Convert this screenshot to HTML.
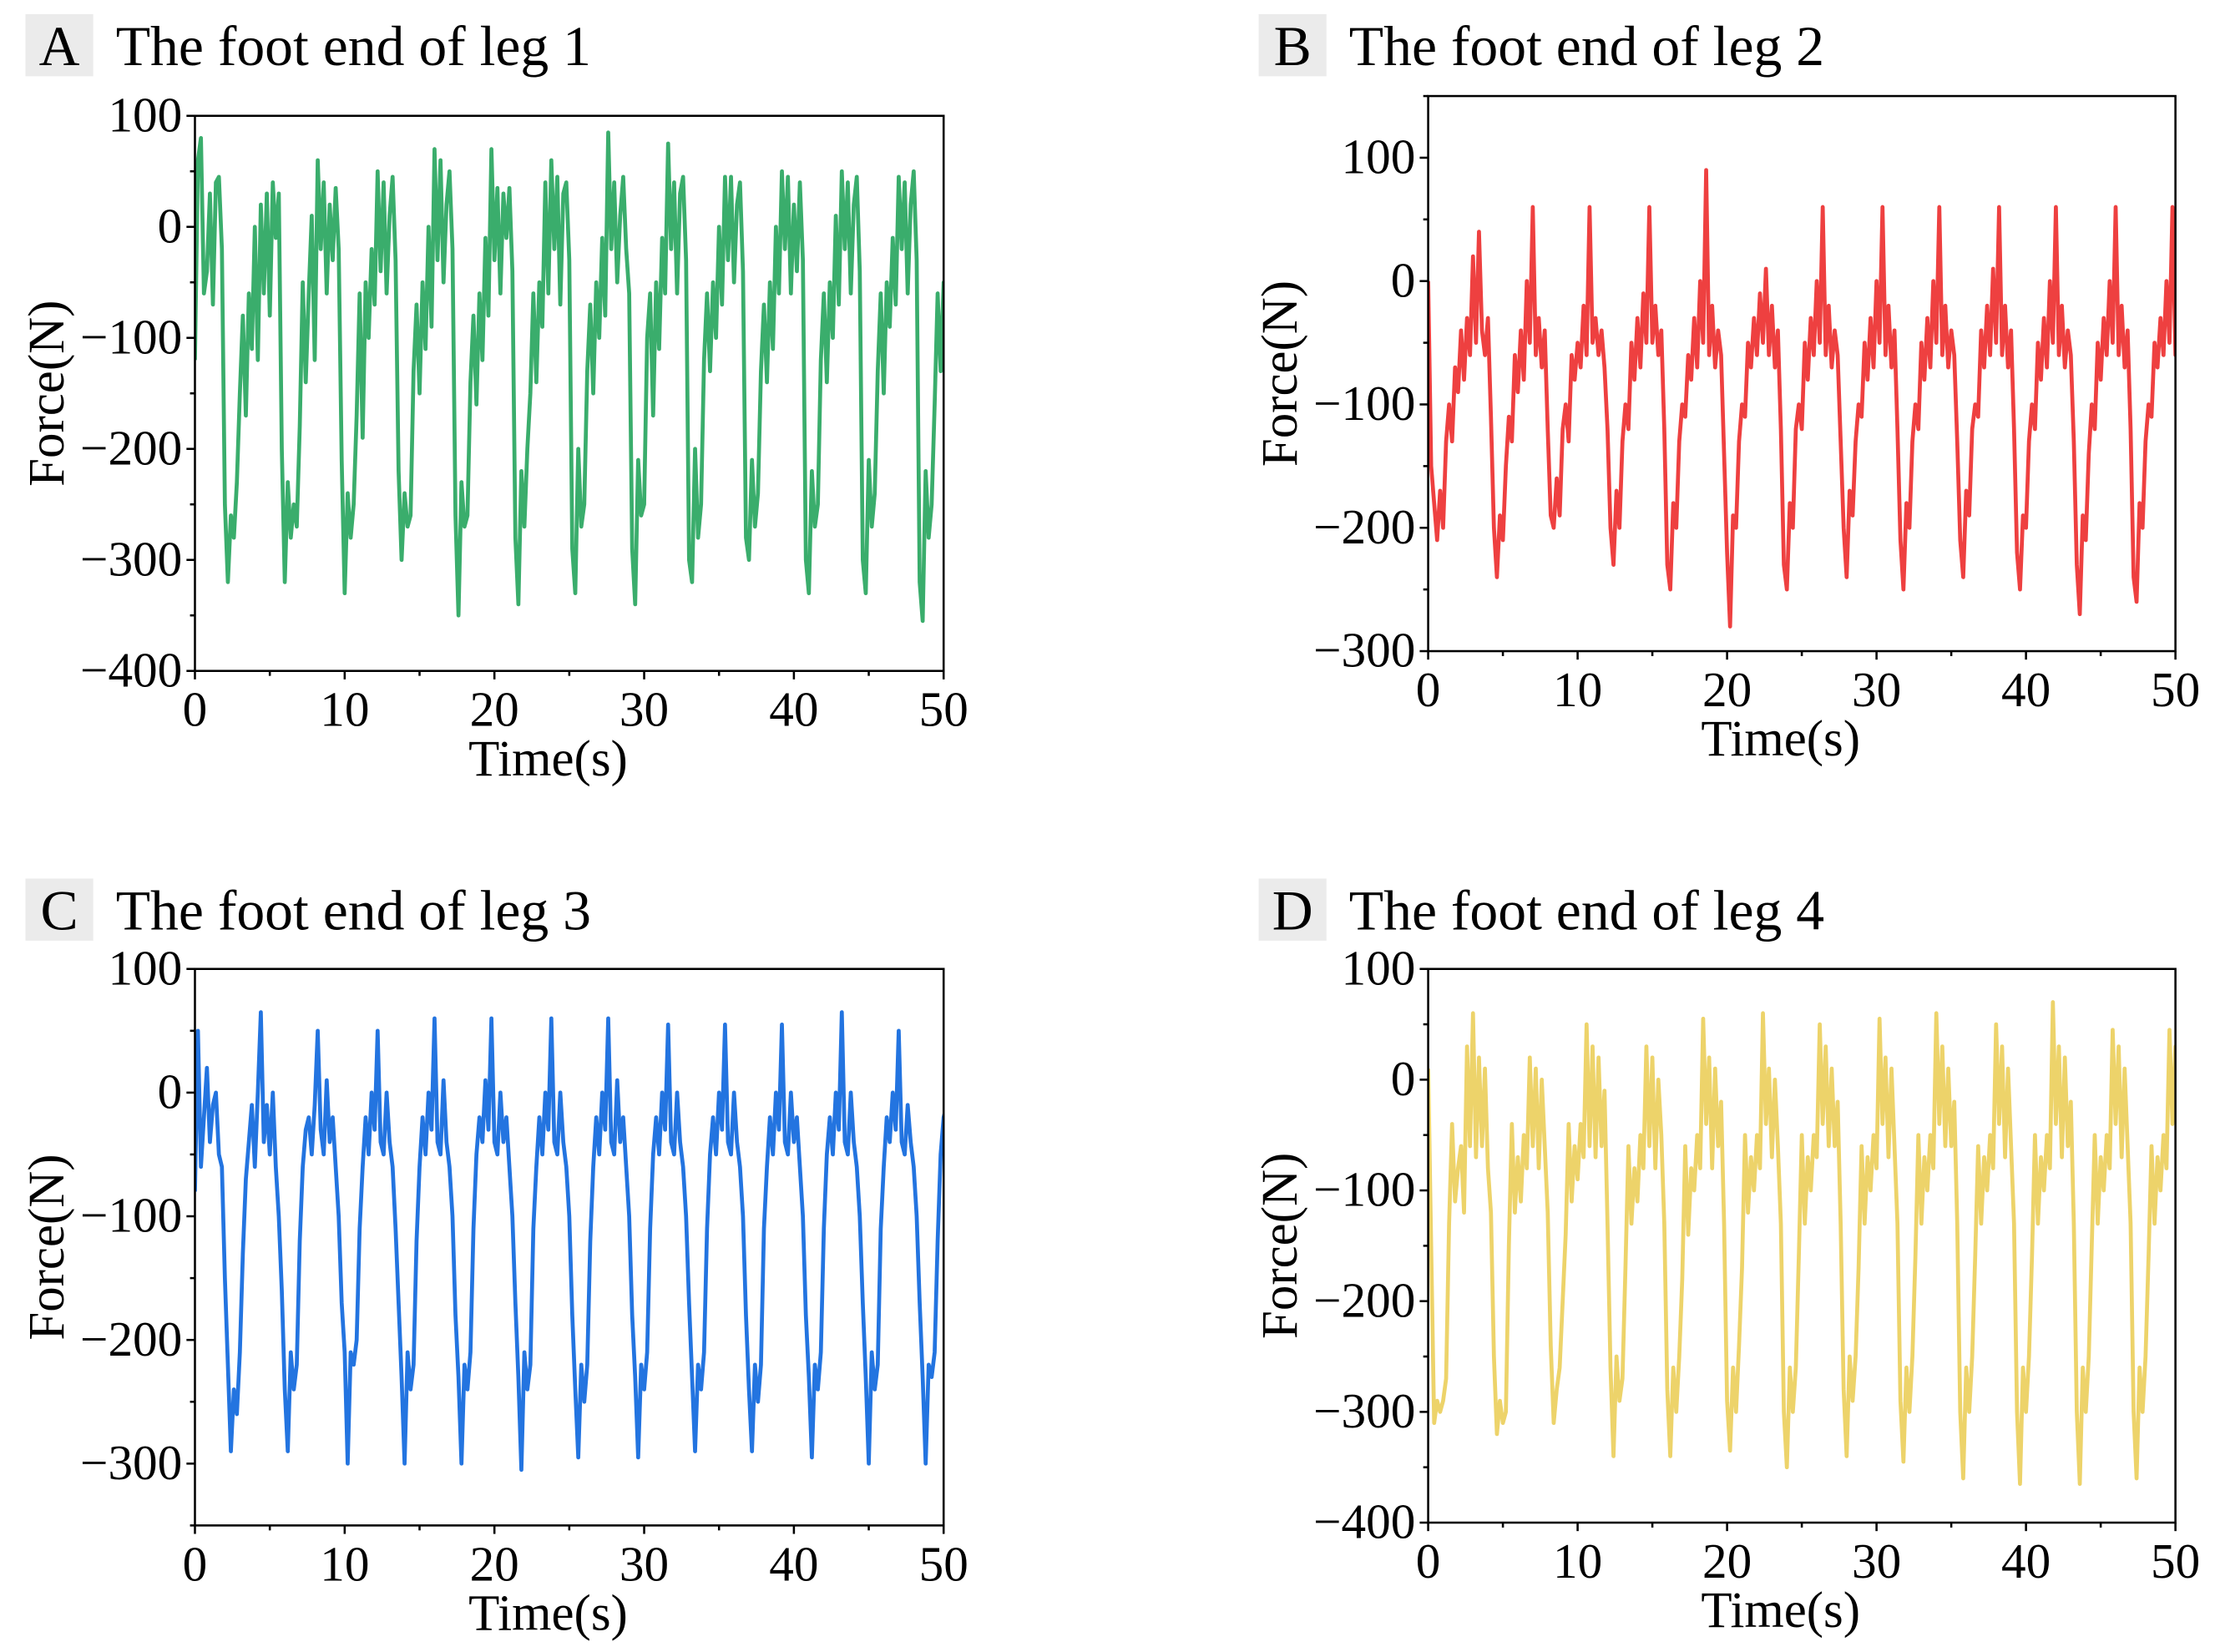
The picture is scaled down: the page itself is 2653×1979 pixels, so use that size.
<!DOCTYPE html>
<html><head><meta charset="utf-8">
<style>
html,body{margin:0;padding:0;background:#fff;}
svg{display:block;}
text{font-family:"Liberation Serif",serif;fill:#000;}
</style></head>
<body>
<svg id="fig" width="2653" height="1979" viewBox="0 0 1568 1169.6" preserveAspectRatio="none" xmlns="http://www.w3.org/2000/svg"></svg>
<script>
const timeStep = 0.2;
const xTicks = [0,10,20,30,40,50];
const seriesA = [-120,60,80,-60,-40,30,-70,40,45,-20,
-250,-320,-260,-280,-230,-150,-80,-170,-60,-110,0,-120,20,-60,30,-80,40,-10,30,
-200,-320,-230,-280,-250,-270,-180,-50,-140,-60,10,-120,60,-20,40,-60,20,-30,35,-20,
-210,-330,-240,-280,-250,-170,-60,-190,-50,-100,-20,-70,50,-40,40,-60,10,45,-30,
-220,-300,-240,-270,-260,-130,-70,-150,-50,-110,0,-90,70,-30,60,-50,20,50,-20,
-260,-350,-230,-270,-260,-140,-80,-160,-60,-120,-10,-80,70,-30,35,-60,30,-10,35,-40,
-280,-340,-220,-270,-200,-150,-60,-140,-50,-90,40,-60,60,-20,45,-70,30,40,-30,
-290,-330,-200,-270,-250,-130,-70,-150,-50,-100,-10,-80,85,-20,40,-50,10,45,-20,-60,
-290,-340,-210,-260,-250,-100,-60,-170,-50,-110,-10,-60,75,-20,40,-60,30,45,-30,
-300,-320,-200,-280,-250,-120,-60,-130,-50,-100,0,-70,45,-30,45,-50,20,40,-40,
-280,-300,-210,-270,-240,-130,-70,-140,-50,-110,0,-60,50,-20,45,-60,20,-40,40,-30,
-300,-330,-220,-270,-250,-120,-60,-140,-50,-100,10,-70,50,-20,40,-60,20,45,-40,
-300,-330,-210,-270,-240,-130,-60,-150,-50,-90,-10,-70,45,-20,40,-60,20,50,-30,
-320,-355,-220,-280,-250,-160,-60,-130,-50,-100,30];
const seriesB = [0,-150,
-180,-210,-170,-200,-130,-100,-130,-70,-90,-40,-80,-30,-60,20,-50,40,-40,-60,-30,-110,
-200,-240,-190,-210,-150,-110,-130,-60,-90,-40,-80,0,-50,60,-60,-30,-70,-40,-120,
-190,-200,-160,-190,-120,-100,-130,-60,-80,-50,-70,-20,-60,60,-50,-30,-60,-40,-70,-120,
-200,-230,-170,-200,-130,-100,-120,-50,-80,-30,-70,-10,-50,60,-50,-20,-60,-40,-120,
-230,-250,-180,-200,-130,-100,-110,-60,-80,-30,-70,0,-50,90,-60,-20,-70,-40,-60,-140,
-220,-280,-190,-200,-130,-100,-110,-50,-70,-30,-60,-10,-50,10,-60,-20,-70,-40,-120,
-230,-250,-180,-200,-120,-100,-120,-50,-80,-30,-60,0,-50,60,-60,-20,-70,-40,-60,-130,
-200,-240,-170,-190,-130,-100,-110,-50,-80,-30,-70,0,-50,60,-60,-20,-70,-40,-120,
-210,-250,-180,-200,-130,-100,-120,-50,-80,-30,-70,0,-50,60,-60,-20,-70,-40,-60,-130,
-210,-240,-170,-190,-120,-100,-110,-40,-70,-20,-60,10,-50,60,-60,-20,-70,-40,-120,
-220,-250,-190,-200,-130,-100,-120,-50,-80,-30,-70,0,-50,60,-60,-20,-70,-40,-60,-130,
-230,-270,-190,-210,-140,-100,-120,-50,-80,-30,-60,0,-50,60,-60,-20,-70,-40,-120,
-240,-260,-180,-200,-130,-100,-110,-50,-70,-30,-60,0,-50,60,-60,-40,-100];
const seriesC = [-80,50,-60,-20,20,-40,-10,0,-50,-60,
-150,-220,-290,-240,-260,-210,-130,-70,-40,-10,-60,0,65,-40,-10,-50,0,-60,-100,
-160,-240,-290,-210,-240,-220,-120,-60,-30,-20,-50,-10,50,-30,-50,10,-40,-20,-60,-100,
-170,-210,-300,-210,-220,-200,-110,-60,-20,-50,0,-30,50,-40,-50,0,-40,-60,-110,
-170,-230,-300,-210,-240,-220,-120,-60,-20,-50,0,-30,60,-40,-50,10,-40,-60,-100,
-180,-230,-300,-220,-240,-210,-110,-50,-20,-40,10,-30,60,-40,-50,0,-40,-20,-60,-100,
-170,-230,-305,-210,-240,-220,-110,-60,-20,-50,0,-30,60,-40,-50,0,-40,-60,-100,
-180,-240,-295,-220,-250,-220,-120,-60,-20,-50,0,-30,60,-40,-50,10,-40,-20,-60,-100,
-180,-230,-295,-220,-240,-210,-110,-50,-20,-50,0,-30,55,-40,-50,0,-40,-60,-100,
-170,-230,-290,-220,-240,-210,-110,-50,-20,-50,0,-30,55,-40,-50,0,-40,-60,-100,
-180,-240,-290,-220,-250,-220,-110,-60,-20,-50,0,-30,55,-40,-50,0,-40,-20,-60,-100,
-180,-230,-295,-220,-240,-210,-110,-50,-20,-50,0,-30,65,-40,-50,0,-40,-60,-100,
-170,-230,-300,-210,-240,-220,-110,-60,-20,-40,0,-30,50,-40,-50,-10,-40,-60,-100,
-170,-230,-300,-220,-230,-210,-120,-50,-20,-10,-80];
const seriesD = [10,-150,
-310,-290,-300,-290,-270,-130,-40,-110,-80,-60,-120,30,-60,60,-70,20,-60,10,-80,-120,
-250,-320,-290,-310,-300,-150,-40,-120,-70,-110,-50,-80,20,-60,10,-80,0,-60,-120,
-240,-310,-280,-260,-200,-140,-40,-110,-60,-90,-40,-70,50,-60,30,-70,20,-60,-10,-130,
-260,-340,-250,-290,-270,-170,-60,-130,-80,-110,-50,-80,30,-60,20,-80,0,-50,-130,
-280,-340,-260,-300,-250,-180,-60,-140,-80,-100,-50,-80,55,-40,20,-80,10,-60,-20,-130,
-290,-335,-260,-300,-240,-170,-50,-120,-70,-100,-50,-80,60,-40,10,-70,0,-60,-130,
-300,-350,-260,-300,-260,-160,-50,-130,-70,-100,-50,-70,50,-40,30,-60,10,-60,-20,-130,
-280,-340,-250,-290,-250,-170,-60,-130,-70,-100,-50,-80,55,-40,20,-70,10,-60,-130,
-290,-345,-260,-300,-250,-160,-50,-130,-70,-100,-50,-80,60,-40,30,-60,10,-60,-20,-130,
-300,-360,-260,-300,-250,-160,-60,-130,-70,-100,-50,-80,50,-40,30,-70,10,-60,-130,
-300,-365,-260,-300,-250,-160,-50,-130,-70,-100,-50,-80,70,-40,30,-70,20,-60,-20,-130,
-300,-365,-260,-300,-250,-150,-50,-130,-70,-100,-50,-80,45,-40,30,-70,10,-60,-130,
-300,-360,-260,-300,-250,-160,-60,-130,-70,-100,-50,-80,45,-40,30,-60,-130];
const yTicksA = [100,0,-100,-200,-300,-400];
const yTicksB = [100,0,-100,-200,-300];
const yTicksC = [100,0,-100,-200,-300];
const yTicksD = [100,0,-100,-200,-300,-400];

const NS = "http://www.w3.org/2000/svg";
const svg = document.getElementById('fig');
function mk(tag, attrs, parent){
  const e = document.createElementNS(NS, tag);
  for (const k in attrs) e.setAttribute(k, attrs[k]);
  (parent||svg).appendChild(e);
  return e;
}
function panel(p){
  const g = mk('g', {});
  
  
  const sx = v => p.x0 + (v - 0) / 50 * (p.x1 - p.x0);
  const sy = v => p.y1 - (v - p.ymin) / (p.ymax - p.ymin) * (p.y1 - p.y0);
  const box = mk('rect', {x:p.bx, y:p.by, width:48, height:44, fill:'#ebebeb'}, g);
  
  
  const lt = mk('text', {x:p.bx+24, y:p.by+36, 'font-size':40, 'text-anchor':'middle'}, g);
  lt.textContent = p.letter;
  
  
  const tt = mk('text', {x:p.bx+64, y:p.by+36, 'font-size':40}, g);
  tt.textContent = p.title;
  
  
  const clip = 'clip' + p.letter;
  const cp = mk('clipPath', {id:clip}, g);
  mk('rect', {x:p.x0, y:p.y0, width:p.x1-p.x0, height:p.y1-p.y0}, cp);
  let d = '';
  p.data.forEach((v,i)=>{ d += (i?'L':'M') + sx(i*timeStep).toFixed(2) + ',' + sy(v).toFixed(2); });
  const line = mk('path', {d:d, fill:'none', stroke:p.color, 'stroke-width':2.8, 'stroke-linejoin':'round', 'clip-path':'url(#'+clip+')'}, g);
  
  
  const fr = mk('rect', {x:p.x0, y:p.y0, width:p.x1-p.x0, height:p.y1-p.y0, fill:'none', stroke:'#000', 'stroke-width':1.5}, g);
  
  
  for (let t=0; t<=50; t+=5){
    const major = t % 10 === 0;
    mk('line', {x1:sx(t), x2:sx(t), y1:p.y1, y2:p.y1+(major?6:3.5), stroke:'#000', 'stroke-width':1.5}, g);
  }
  xTicks.forEach(t=>{
    const tx = mk('text', {x:sx(t), y:p.y1+39, 'font-size':35, 'text-anchor':'middle'}, g);
    tx.textContent = t;
    
    
  });
  for (let v=Math.ceil(p.ymin/50)*50; v<=p.ymax; v+=50){
    const major = v % 100 === 0;
    mk('line', {x1:p.x0, x2:p.x0-(major?6:3.5), y1:sy(v), y2:sy(v), stroke:'#000', 'stroke-width':1.5}, g);
  }
  p.yt.forEach(v=>{
    const ty = mk('text', {x:p.x0-9, y:sy(v)+11, 'font-size':35, 'text-anchor':'end'}, g);
    ty.textContent = v < 0 ? '\u2212' + Math.abs(v) : v;
    
    
  });
  const xt = mk('text', {x:(p.x0+p.x1)/2 - 15, y:p.y1+74, 'font-size':36, 'text-anchor':'middle'}, g);
  xt.textContent = 'Time(s)';
  
  
  const yc = (p.y0+p.y1)/2 + p.yoff;
  const yt = mk('text', {x:0, y:0, 'font-size':36, 'text-anchor':'middle', transform:'translate('+(p.bx+27)+','+yc+') rotate(-90)'}, g);
  yt.textContent = 'Force(N)';
  
  
}
panel({letter:'A', title:'The foot end of leg 1', bx:18, by:10, x0:138, x1:668, y0:82, y1:475, ymin:-400, ymax:100, yt:yTicksA, data:seriesA, color:'#3aad6c', yoff:0});
panel({letter:'B', title:'The foot end of leg 2', bx:891, by:10, x0:1011, x1:1540, y0:68, y1:461, ymin:-300, ymax:150, yt:yTicksB, data:seriesB, color:'#ee4040', yoff:0});
panel({letter:'C', title:'The foot end of leg 3', bx:18, by:622, x0:138, x1:668, y0:686, y1:1080, ymin:-350, ymax:100, yt:yTicksC, data:seriesC, color:'#2374e0', yoff:0});
panel({letter:'D', title:'The foot end of leg 4', bx:891, by:622, x0:1011, x1:1540, y0:686, y1:1078, ymin:-400, ymax:100, yt:yTicksD, data:seriesD, color:'#edd36a', yoff:0});
</script>
</body></html>
